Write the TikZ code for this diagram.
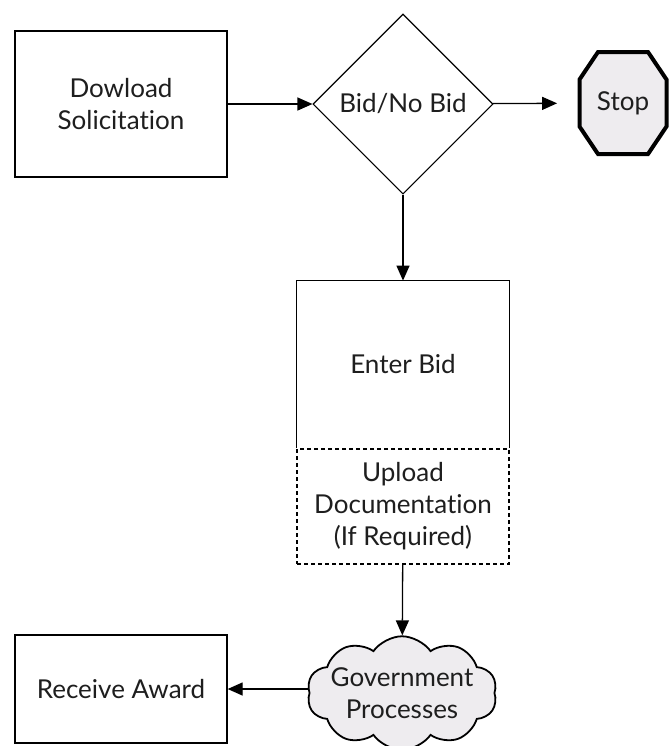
\documentclass[tikz,border=0pt]{standalone}
\usepackage{fontspec}
\setmainfont{Lato}[Ligatures={NoCommon,NoRequired,NoContextual}]
\usetikzlibrary{positioning,arrows.meta,shapes.geometric,shapes.symbols}
\definecolor{shadegray}{RGB}{238,236,239}
\definecolor{inkgray}{RGB}{30,30,30}

\begin{document}
\begin{tikzpicture}[
    x=0.5pt, y=-0.5pt,
    box/.style={
        rectangle, draw=black, line width=0.65pt,
        fill=#1, minimum width=106pt, inner sep=2pt,
        font=\fontsize{13}{16}\selectfont, text=inkgray, align=center
    },
    box/.default={white},
    lbl/.style={font=\fontsize{13}{16}\selectfont, text=inkgray, align=center},
    arrow/.style={-{Triangle[length=7.5pt,width=6.5pt]}, line width=0.65pt, draw=black},
    optional/.style={dash pattern=on 2pt off 1.5pt}
]
\useasboundingbox (0,0) rectangle (672,746);

% Download step
\node[box, minimum height=73pt] (download) at (121,104) {Dowload\\Solicitation};

% Decision diamond
\node[box, diamond, line width=0.55pt, minimum width=90pt, minimum height=90pt]
    (decide) at (403,104) {Bid/No Bid};

% Stop sign: octagon first, label on top
\coordinate (stopc) at (623,103);
\filldraw[fill=shadegray, draw=black, line width=2pt, line join=miter]
    ([shift={(-25,-51)}]stopc) -- ([shift={(25,-51)}]stopc)
    -- ([shift={(43.5,-23.5)}]stopc) -- ([shift={(43.5,23.5)}]stopc)
    -- ([shift={(25,51)}]stopc) -- ([shift={(-25,51)}]stopc)
    -- ([shift={(-43.5,23.5)}]stopc) -- ([shift={(-43.5,-23.5)}]stopc)
    -- cycle;
\node[lbl, minimum width=43.5pt, minimum height=51pt] (stop) at (stopc) {Stop};

% Enter bid (bottom edge is shared with the dashed part)
\node[lbl, minimum width=106pt, minimum height=83.5pt] (enter) at (403,364.5) {Enter Bid};
\draw[line width=0.65pt] (enter.south west) |- (enter.north east) -- (enter.south east);

% Optional upload
\node[box, optional, minimum height=57.5pt, below=0pt of enter]
    (upload) {Upload\\Documentation\\(If Required)};

% Government processing
\node[box=shadegray, cloud, cloud puffs=10, cloud puff arc=110, aspect=2.1,
    inner xsep=-3pt, inner ysep=-6pt, line width=0.9pt, minimum width=0pt]
    (gov) at (402,693) {Government\\Processes};

% Award
\node[box, minimum height=54pt] (award) at (121,689) {Receive Award};

% Arrows
\draw[arrow] (download) -- (decide);
\draw[arrow, shorten >=11pt] (decide) -- (stop);
\draw[arrow] (decide) -- (enter);
\draw[arrow] (upload) -- (gov);
\draw[arrow] (gov.west |- award.east) -- (award);

\end{tikzpicture}
\end{document}
